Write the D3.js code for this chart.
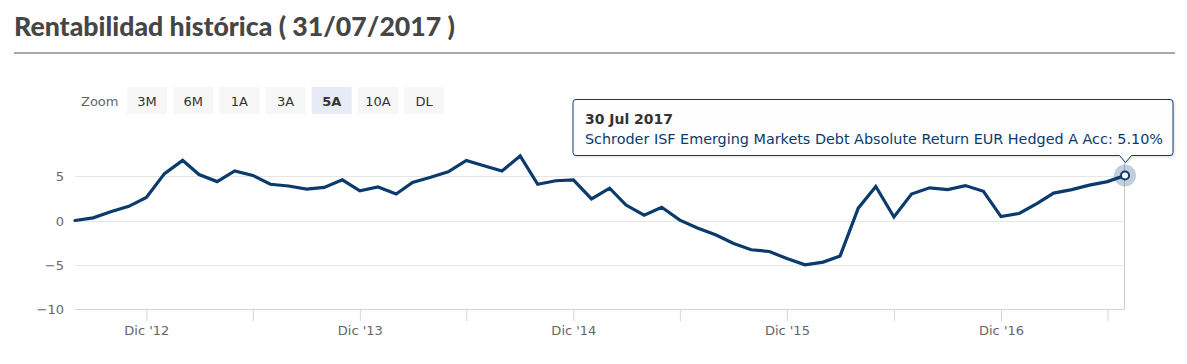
<!DOCTYPE html>
<html>
<head>
<meta charset="utf-8">
<script src="https://cdn.jsdelivr.net/npm/d3@7/dist/d3.min.js"></script>
<style>
  html, body { margin: 0; padding: 0; background: #fff; }
  svg { display: block; }
</style>
</head>
<body>
<svg id="chart" width="1187" height="364"></svg>
<script>
// ---------- data ----------
const months = [
  "2012-08","2012-09","2012-10","2012-11","2012-12","2013-01","2013-02","2013-03","2013-04","2013-05","2013-06","2013-07",
  "2013-08","2013-09","2013-10","2013-11","2013-12","2014-01","2014-02","2014-03","2014-04","2014-05","2014-06","2014-07",
  "2014-08","2014-09","2014-10","2014-11","2014-12","2015-01","2015-02","2015-03","2015-04","2015-05","2015-06","2015-07",
  "2015-08","2015-09","2015-10","2015-11","2015-12","2016-01","2016-02","2016-03","2016-04","2016-05","2016-06","2016-07",
  "2016-08","2016-09","2016-10","2016-11","2016-12","2017-01","2017-02","2017-03","2017-04","2017-05","2017-06","2017-07"
];
const returns = [
  0.0, 0.3, 1.0, 1.6, 2.6, 5.3, 6.8, 5.2, 4.4, 5.6, 5.1, 4.1,
  3.9, 3.55, 3.75, 4.6, 3.35, 3.8, 3.0, 4.3, 4.9, 5.5, 6.8, 6.2,
  5.6, 7.3, 4.1, 4.5, 4.6, 2.45, 3.65, 1.75, 0.6, 1.5, 0.05, -0.85,
  -1.6, -2.6, -3.3, -3.5, -4.3, -5.0, -4.7, -4.0, 1.4, 3.85, 0.4, 3.0,
  3.7, 3.5, 3.95, 3.3, 0.45, 0.8, 1.95, 3.1, 3.5, 4.0, 4.4, 5.1
];
const yTicks = [-10, -5, 0, 5];
const xTickMonths = ["2012-12","2013-06","2013-12","2014-06","2014-12","2015-06","2015-12","2016-06","2016-12","2017-06"];
const xTickLabels = ["Dic '12","","Dic '13","","Dic '14","","Dic '15","","Dic '16",""];
const zoomButtons = ["3M","6M","1A","3A","5A","10A","DL"];
const selectedButton = "5A";
const titleText = "Rentabilidad histórica ( 31/07/2017 )";
const seriesName = "Schroder ISF Emerging Markets Debt Absolute Return EUR Hedged A Acc";
const tooltipDate = "30 Jul 2017";

// ---------- setup ----------
const parse = d3.timeParse("%Y-%m");
const data = months.map((m, i) => ({ date: parse(m), value: returns[i] }));

const svg = d3.select("#chart");
const FONT = "'DejaVu Sans', 'Noto Sans', sans-serif";
const navy = "#0b3a6d";

const plot = { left: 75, right: 1125, bottom: 309, top: 140 };

const x = d3.scaleTime()
  .domain(d3.extent(data, d => d.date))
  .range([plot.left, plot.right]);
const y = d3.scaleLinear()
  .domain([-10, 5])
  .range([plot.bottom, 176.3]);

function fitText(sel, targetWidth) {
  const w = sel.node().getComputedTextLength();
  const fs = parseFloat(sel.attr("font-size"));
  sel.attr("font-size", (fs * targetWidth / w).toFixed(2));
}

// ---------- title ----------
const title = svg.append("text")
  .attr("x", 14).attr("y", 36)
  .attr("font-family", "Lato, 'Open Sans', sans-serif")
  .attr("font-weight", 900)
  .attr("font-size", 22)
  .attr("fill", "#464646")
  .text(titleText);
fitText(title, 441);

svg.append("rect")
  .attr("x", 14).attr("y", 52).attr("width", 1161).attr("height", 2)
  .attr("fill", "#a9a9a9");

// ---------- zoom buttons ----------
svg.append("text")
  .attr("x", 81).attr("y", 105.5)
  .attr("font-family", FONT).attr("font-size", 13)
  .attr("fill", "#666")
  .text("Zoom");

const btnG = svg.append("g");
zoomButtons.forEach((b, i) => {
  const bx = 127 + i * 46.2;
  const sel = b === selectedButton;
  btnG.append("rect")
    .attr("x", bx).attr("y", 87).attr("width", 40).attr("height", 27)
    .attr("fill", sel ? "#e6ebf5" : "#f7f7f7");
  btnG.append("text")
    .attr("x", bx + 20).attr("y", 105.5)
    .attr("text-anchor", "middle")
    .attr("font-family", FONT).attr("font-size", 13)
    .attr("font-weight", sel ? 700 : 400)
    .attr("fill", "#333")
    .text(b);
});

// ---------- grid ----------
svg.append("g")
  .selectAll("line")
  .data(yTicks.filter(t => t !== -10))
  .join("line")
  .attr("x1", plot.left).attr("x2", plot.right)
  .attr("y1", d => Math.round(y(d)) + 0.5).attr("y2", d => Math.round(y(d)) + 0.5)
  .attr("stroke", "#e6e6e6").attr("stroke-width", 1);

// y labels
const yAxis = d3.axisLeft(y).tickValues(yTicks).tickSize(0).tickPadding(0)
  .tickFormat(d => d < 0 ? "\u2212" + Math.abs(d) : d);
const yg = svg.append("g").attr("transform", `translate(${plot.left - 11},0)`).call(yAxis);
yg.select(".domain").remove();
yg.selectAll("text")
  .attr("font-family", FONT).attr("font-size", 13)
  .attr("fill", "#666").attr("dy", "0.35em");

// x axis
const xTickDates = xTickMonths.map(parse);
const xAxis = d3.axisBottom(x).tickValues(xTickDates).tickSize(12).tickPadding(5)
  .tickFormat((d, i) => xTickLabels[i]);
const xg = svg.append("g").attr("transform", `translate(0,${plot.bottom})`).call(xAxis);
xg.select(".domain")
  .attr("d", `M${plot.left},0.5H${plot.right}`)
  .attr("stroke", "#ccd6eb");
xg.selectAll(".tick line").attr("stroke", "#ccd6eb");
xg.selectAll(".tick text")
  .attr("font-family", FONT).attr("font-size", 13)
  .attr("fill", "#666");

// crosshair
const last = data[data.length - 1];
svg.append("line")
  .attr("x1", Math.round(x(last.date)) - 0.5).attr("x2", Math.round(x(last.date)) - 0.5)
  .attr("y1", plot.top).attr("y2", plot.bottom)
  .attr("stroke", "#cccccc").attr("stroke-width", 1);

// ---------- line ----------
const line = d3.line().x(d => x(d.date)).y(d => y(d.value));
svg.append("path")
  .datum(data)
  .attr("d", line)
  .attr("fill", "none")
  .attr("stroke", navy)
  .attr("stroke-width", 3.2)
  .attr("stroke-linejoin", "miter")
  .attr("stroke-linecap", "round");

// hover marker
const px = x(last.date), py = y(last.value);
svg.append("circle").attr("cx", px).attr("cy", py).attr("r", 11)
  .attr("fill", navy).attr("fill-opacity", 0.25);
svg.append("circle").attr("cx", px).attr("cy", py).attr("r", 4)
  .attr("fill", "#fff").attr("stroke", navy).attr("stroke-width", 2);

// ---------- tooltip ----------
const tip = svg.append("g");
const tipPath = tip.append("path");
const t1 = tip.append("text")
  .attr("font-family", FONT).attr("font-size", 13).attr("font-weight", 700)
  .attr("fill", "#333")
  .text(tooltipDate);
const t2 = tip.append("text")
  .attr("font-family", FONT).attr("font-size", 13)
  .attr("fill", navy)
  .text(seriesName + ": " + d3.format(".2f")(last.value) + "%");
fitText(t2, 578);
fitText(t1, 88);

const boxR = px + 48, boxL = 573, boxT = 99.5, boxB = 155.5;
const ax = px + 0.5;
tipPath
  .attr("d", `M${boxL + 3},${boxT} H${boxR - 3} Q${boxR},${boxT} ${boxR},${boxT + 3} V${boxB - 3} Q${boxR},${boxB} ${boxR - 3},${boxB} H${ax + 6} L${ax},${boxB + 7} L${ax - 6},${boxB} H${boxL + 3} Q${boxL},${boxB} ${boxL},${boxB - 3} V${boxT + 3} Q${boxL},${boxT} ${boxL + 3},${boxT} Z`)
  .attr("fill", "rgba(255,255,255,0.95)")
  .attr("stroke", navy).attr("stroke-width", 1)
  .style("filter", "drop-shadow(1px 1px 1px rgba(0,0,0,0.15))");
t1.attr("x", 585).attr("y", 123.5);
t2.attr("x", 585).attr("y", 143.5);
</script>
</body>
</html>
